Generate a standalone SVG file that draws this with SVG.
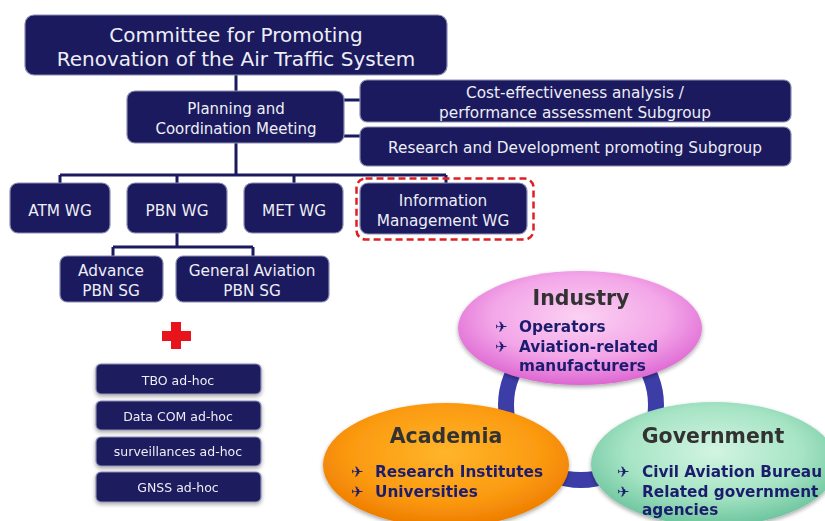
<svg xmlns="http://www.w3.org/2000/svg" width="825" height="521" viewBox="0 0 825 521">
<defs>
<style>
.box{fill:#1b1a5e;stroke:#8d8db4;stroke-width:1.2}
.t{font-family:"DejaVu Sans",Verdana,sans-serif;fill:#eeeef6;text-anchor:middle}
.conn{fill:none;stroke:#1b1a5e;stroke-width:3}
.h{font-family:"DejaVu Sans",Verdana,sans-serif;font-weight:bold;fill:#333333;text-anchor:middle;font-size:20.5px}
.b{font-family:"DejaVu Sans",Verdana,sans-serif;font-weight:bold;fill:#1e1e6e;font-size:15.3px}
.pl{font-family:"DejaVu Sans",sans-serif;fill:#1e1e6e;font-size:15px}
</style>
<radialGradient id="gPink" cx="50%" cy="40%" r="60%">
<stop offset="0" stop-color="#fbd2f3"/><stop offset="0.6" stop-color="#f3a6e8"/><stop offset="1" stop-color="#dd66d2"/>
</radialGradient>
<radialGradient id="gOr" cx="50%" cy="40%" r="60%">
<stop offset="0" stop-color="#ffb52a"/><stop offset="0.65" stop-color="#fb9a10"/><stop offset="1" stop-color="#ee7c00"/>
</radialGradient>
<radialGradient id="gGr" cx="50%" cy="40%" r="60%">
<stop offset="0" stop-color="#d2f4e2"/><stop offset="0.6" stop-color="#a6e4c4"/><stop offset="1" stop-color="#6cc49e"/>
</radialGradient>
<filter id="sh" x="-20%" y="-20%" width="140%" height="140%">
<feGaussianBlur in="SourceAlpha" stdDeviation="2"/><feOffset dx="0" dy="2"/>
<feComponentTransfer><feFuncA type="linear" slope="0.35"/></feComponentTransfer>
<feMerge><feMergeNode/><feMergeNode in="SourceGraphic"/></feMerge>
</filter>
</defs>
<rect width="825" height="521" fill="#ffffff"/>

<g id="connectors">
<path class="conn" d="M236 75V91"/>
<path class="conn" d="M344 100H361M344 136H361"/>
<path class="conn" d="M236 143V175M60 175H446M60 175V183M177 175V183M294 175V183M446 175V183"/>
<path class="conn" d="M177 233V247M113 247H253M113 247V256M253 247V256"/>
</g>

<g id="committee">
<rect class="box" x="25" y="15" width="422" height="60" rx="9"/>
<text class="t" x="236" y="42" font-size="20">Committee for Promoting</text>
<text class="t" x="236" y="66" font-size="20">Renovation of the Air Traffic System</text>
</g>
<g id="planning">
<rect class="box" x="127" y="91" width="217" height="52" rx="8"/>
<text class="t" x="236" y="114" font-size="15">Planning and</text>
<text class="t" x="236" y="134" font-size="15">Coordination Meeting</text>
</g>
<g id="cost">
<rect class="box" x="360" y="80" width="431" height="42" rx="7"/>
<text class="t" x="575" y="98" font-size="15.3">Cost-effectiveness analysis /</text>
<text class="t" x="575" y="118" font-size="15.3">performance assessment Subgroup</text>
</g>
<g id="rnd">
<rect class="box" x="360" y="127" width="431" height="39" rx="7"/>
<text class="t" x="575" y="153" font-size="15.3">Research and Development promoting Subgroup</text>
</g>
<g id="atm">
<rect class="box" x="10" y="183" width="100" height="50" rx="8"/>
<text class="t" x="60" y="216" font-size="15.3">ATM WG</text>
</g>
<g id="pbn">
<rect class="box" x="127" y="183" width="100" height="50" rx="8"/>
<text class="t" x="177" y="216" font-size="15.3">PBN WG</text>
</g>
<g id="met">
<rect class="box" x="244" y="183" width="99" height="50" rx="8"/>
<text class="t" x="294" y="216" font-size="15.3">MET WG</text>
</g>
<g id="im">
<rect x="356.5" y="178.5" width="177" height="61" rx="9" fill="none" stroke="#e02020" stroke-width="2.5" stroke-dasharray="7 4"/>
<rect class="box" x="360" y="183" width="167" height="51" rx="8"/>
<text class="t" x="443" y="206" font-size="15.3">Information</text>
<text class="t" x="443" y="226" font-size="15.3">Management WG</text>
</g>
<g id="advance">
<rect class="box" x="60" y="256" width="103" height="46" rx="7"/>
<text class="t" x="111" y="276" font-size="15.3">Advance</text>
<text class="t" x="111" y="296" font-size="15.3">PBN SG</text>
</g>
<g id="ga">
<rect class="box" x="176" y="256" width="153" height="46" rx="7"/>
<text class="t" x="252" y="276" font-size="15.3">General Aviation</text>
<text class="t" x="252" y="296" font-size="15.3">PBN SG</text>
</g>

<g id="plus">
<path d="M171 322H181V331H191V341H181V349H171V341H162V331H171Z" fill="#e8141c"/>
</g>

<g id="tbo" filter="url(#sh)">
<rect class="box" x="96" y="364" width="165" height="30" rx="5"/>
<text class="t" x="178" y="385" font-size="12.5">TBO ad-hoc</text>
</g>
<g id="datacom" filter="url(#sh)">
<rect class="box" x="96" y="401" width="165" height="29" rx="5"/>
<text class="t" x="178" y="421" font-size="12.5">Data COM ad-hoc</text>
</g>
<g id="surv" filter="url(#sh)">
<rect class="box" x="96" y="437" width="165" height="29" rx="5"/>
<text class="t" x="178" y="456" font-size="12.5">surveillances ad-hoc</text>
</g>
<g id="gnss" filter="url(#sh)">
<rect class="box" x="96" y="472" width="165" height="30" rx="5"/>
<text class="t" x="178" y="492" font-size="12.5">GNSS ad-hoc</text>
</g>

<g id="ring">
<circle cx="581" cy="405" r="75" fill="none" stroke="#3d3da8" stroke-width="16"/>
</g>

<g id="industry" filter="url(#sh)">
<ellipse cx="580" cy="328" rx="122" ry="57" fill="url(#gPink)"/>
<text class="h" x="581" y="305" font-size="23">Industry</text>
<text class="pl" x="495" y="332">✈</text><text class="b" x="519" y="332">Operators</text>
<text class="pl" x="495" y="352">✈</text><text class="b" x="519" y="352">Aviation-related</text>
<text class="b" x="519" y="371">manufacturers</text>
</g>
<g id="academia" filter="url(#sh)">
<ellipse cx="446" cy="465" rx="123" ry="62" fill="url(#gOr)"/>
<text class="h" x="446" y="443">Academia</text>
<text class="pl" x="351" y="477">✈</text><text class="b" x="375" y="477">Research Institutes</text>
<text class="pl" x="351" y="497">✈</text><text class="b" x="375" y="497">Universities</text>
</g>
<g id="government" filter="url(#sh)">
<ellipse cx="714" cy="464" rx="123" ry="62" fill="url(#gGr)"/>
<text class="h" x="713" y="443">Government</text>
<text class="pl" x="617" y="477">✈</text><text class="b" x="642" y="477">Civil Aviation Bureau</text>
<text class="pl" x="617" y="497">✈</text><text class="b" x="642" y="497">Related government</text>
<text class="b" x="642" y="515">agencies</text>
</g>
</svg>
